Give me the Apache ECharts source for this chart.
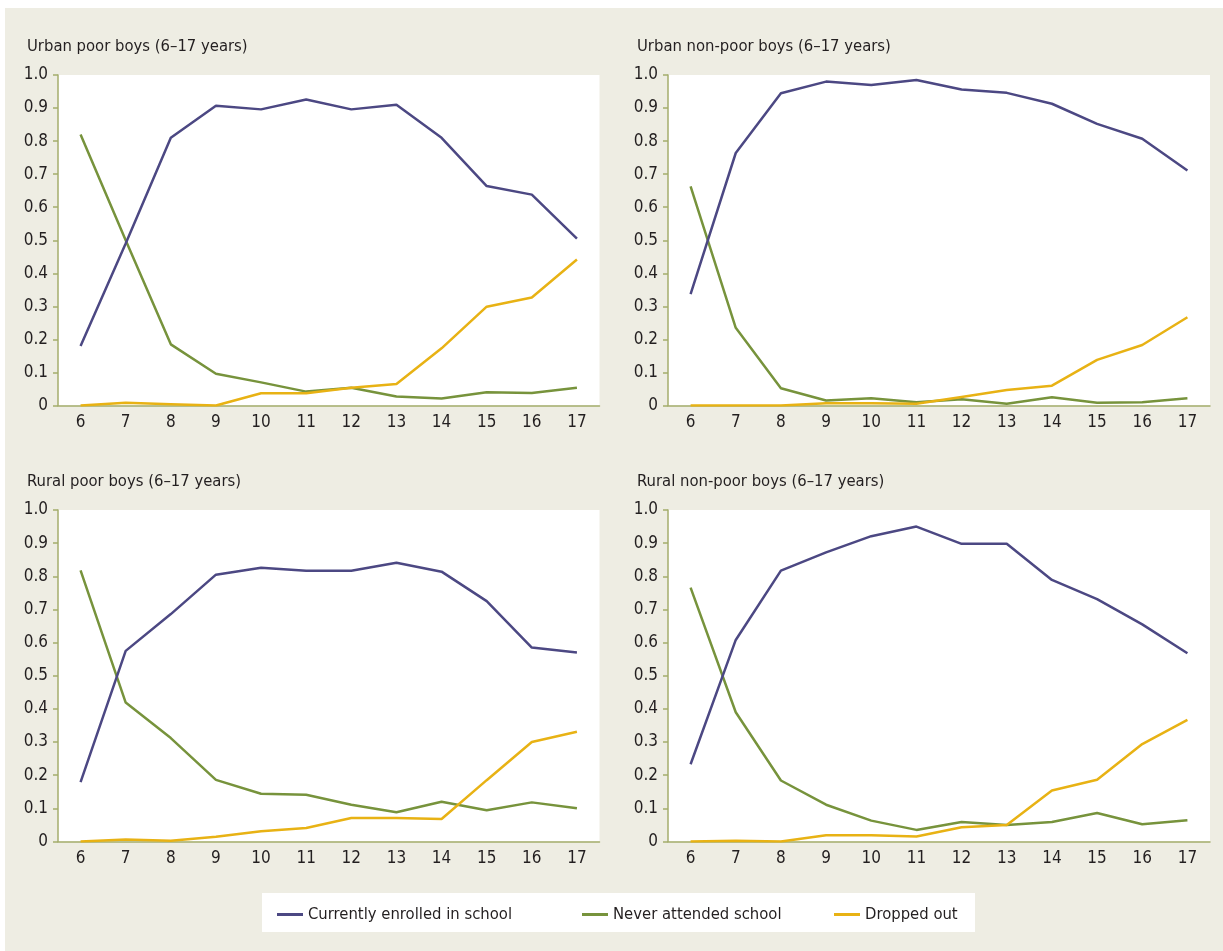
<!DOCTYPE html>
<html>
<head>
<meta charset="utf-8">
<script src="https://cdn.jsdelivr.net/npm/echarts@6/dist/echarts.min.js"></script>
<style>
html,body{margin:0;padding:0;background:#fff;}
#main{width:1223px;height:951px;}
</style>
</head>
<body>
<div id="main"></div>
<script>
var ages = ['6','7','8','9','10','11','12','13','14','15','16','17'];
var yTicks = [0,0.1,0.2,0.3,0.4,0.5,0.6,0.7,0.8,0.9,1.0];
var panelTitles = ['Urban poor boys (6\u201317 years)','Urban non-poor boys (6\u201317 years)','Rural poor boys (6\u201317 years)','Rural non-poor boys (6\u201317 years)'];
var seriesNames = ['Currently enrolled in school','Never attended school','Dropped out'];

var urbanPoorEnrolled = [0.18,0.49,0.81,0.907,0.896,0.926,0.896,0.910,0.81,0.664,0.638,0.505];
var urbanPoorNever    = [0.82,0.50,0.185,0.096,0.070,0.042,0.054,0.027,0.021,0.040,0.038,0.054];
var urbanPoorDropped  = [0,0.008,0.004,0,0.037,0.037,0.054,0.065,0.173,0.299,0.327,0.442];

var urbanNonPoorEnrolled = [0.337,0.764,0.945,0.98,0.970,0.985,0.956,0.946,0.913,0.852,0.807,0.711];
var urbanNonPoorNever    = [0.663,0.235,0.052,0.015,0.022,0.010,0.019,0.005,0.025,0.008,0.010,0.022];
var urbanNonPoorDropped  = [0,0,0,0.007,0.007,0.005,0.026,0.047,0.060,0.138,0.183,0.267];

var ruralPoorEnrolled = [0.179,0.575,0.686,0.805,0.826,0.817,0.817,0.841,0.814,0.725,0.585,0.570];
var ruralPoorNever    = [0.818,0.419,0.312,0.186,0.144,0.141,0.111,0.088,0.120,0.094,0.118,0.100];
var ruralPoorDropped  = [0,0.006,0.002,0.014,0.031,0.041,0.071,0.071,0.068,0.185,0.300,0.331];

var ruralNonPoorEnrolled = [0.233,0.608,0.817,0.872,0.921,0.950,0.898,0.898,0.789,0.731,0.655,0.568];
var ruralNonPoorNever    = [0.766,0.390,0.184,0.111,0.063,0.035,0.059,0.050,0.059,0.086,0.052,0.064];
var ruralNonPoorDropped  = [0,0.002,0,0.019,0.019,0.015,0.043,0.050,0.154,0.186,0.294,0.367];

var panels = [
  [urbanPoorEnrolled, urbanPoorNever, urbanPoorDropped],
  [urbanNonPoorEnrolled, urbanNonPoorNever, urbanNonPoorDropped],
  [ruralPoorEnrolled, ruralPoorNever, ruralPoorDropped],
  [ruralNonPoorEnrolled, ruralNonPoorNever, ruralNonPoorDropped]
];

var FONT = "'Liberation Sans Narrow', 'DejaVu Sans Condensed', sans-serif";
var TXT = '#231f20';
var colors = ['#4c4883','#77933c','#e8b214'];
var axisColor = '#a4ad6c';

var gridPos = [
  {left:58, top:75, width:541.5, height:330.5},
  {left:668, top:75, width:542, height:330.5},
  {left:58, top:510, width:541.5, height:331.5},
  {left:668, top:510, width:542, height:331.5}
];
var titlePos = [[27,38],[637,38],[27,473],[637,473]];

var grids=[], xAxes=[], yAxes=[], series=[], titles=[];
for (var i=0;i<4;i++){
  grids.push({left:gridPos[i].left, top:gridPos[i].top, width:gridPos[i].width, height:gridPos[i].height,
    show:true, backgroundColor:'#ffffff', borderWidth:0, containLabel:false});
  titles.push({text:panelTitles[i], left:titlePos[i][0], top:titlePos[i][1], padding:0,
    textStyle:{fontFamily:FONT, fontSize:16.5, fontWeight:'normal', color:TXT}});
  xAxes.push({type:'category', gridIndex:i, data:ages, boundaryGap:true,
    axisLine:{show:true, lineStyle:{color:axisColor, width:1.5}},
    axisTick:{show:false},
    axisLabel:{fontFamily:FONT, fontSize:17, color:TXT, margin:9, interval:0},
    splitLine:{show:false}});
  yAxes.push({type:'value', gridIndex:i, min:0, max:1, interval:0.1,
    axisLine:{show:true, lineStyle:{color:axisColor, width:1.5}},
    axisTick:{show:true, inside:false, length:5, lineStyle:{color:axisColor, width:1.5}},
    axisLabel:{fontFamily:FONT, fontSize:17, color:TXT, margin:10,
      formatter:function(v){ return v===0 ? '0' : v.toFixed(1); }},
    splitLine:{show:false}});
  for (var s=0;s<3;s++){
    series.push({type:'line', name:seriesNames[s], xAxisIndex:i, yAxisIndex:i,
      data:panels[i][s], showSymbol:false, symbol:'none', smooth:false,
      lineStyle:{color:colors[s], width:2.5}, itemStyle:{color:colors[s]},
      z: s===0?3:(s===1?2:4), silent:true, animation:false});
  }
}

var legendX = [277, 582, 834];
var legends = [];
for (var k=0;k<3;k++){
  legends.push({data:[{name:seriesNames[k], icon:'rect'}], left:legendX[k], top:906, itemWidth:26, itemHeight:3,
    padding:0, itemGap:8,
    textStyle:{fontFamily:FONT, fontSize:16.5, color:TXT, padding:[0,0,0,0]}, selectedMode:false});
}

var chart = echarts.init(document.getElementById('main'), null, {renderer:'canvas'});
chart.setOption({
  animation:false,
  backgroundColor:'#ffffff',
  graphic:[
    {type:'rect', left:5, top:8, shape:{width:1218, height:943}, style:{fill:'#eeede3'}, z:-10},
    {type:'rect', left:262, top:893, shape:{width:713, height:39}, style:{fill:'#ffffff'}, z:-5}
  ],
  title:titles,
  legend:legends,
  grid:grids,
  xAxis:xAxes,
  yAxis:yAxes,
  series:series
});
</script>
</body>
</html>
